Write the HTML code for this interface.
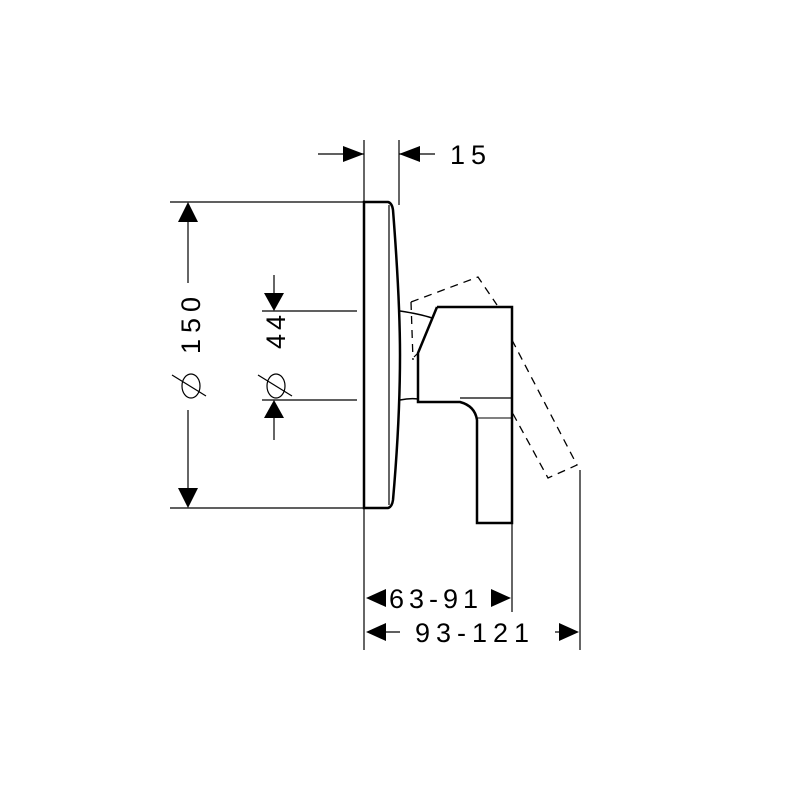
<!DOCTYPE html>
<html><head><style>body{margin:0;background:#fff}svg{display:block}</style></head><body>
<svg width="800" height="800" viewBox="0 0 800 800" xmlns="http://www.w3.org/2000/svg" font-family="Liberation Sans, sans-serif">
<g stroke="#000" fill="none" stroke-width="1.2">
<line x1="364" y1="140" x2="364" y2="650"/>
<line x1="399" y1="140" x2="399" y2="205"/>
<line x1="170" y1="202" x2="364" y2="202"/>
<line x1="170" y1="508" x2="364" y2="508"/>
<line x1="262" y1="311" x2="357" y2="311"/>
<line x1="262" y1="400" x2="357" y2="400"/>
<line x1="512" y1="505" x2="512" y2="612" stroke="#666" stroke-width="2"/>
<line x1="580" y1="470" x2="580" y2="650"/>
<line x1="318" y1="154" x2="364" y2="154"/>
<line x1="399" y1="154" x2="435" y2="154"/>
<line x1="188" y1="215" x2="188" y2="283"/>
<line x1="188" y1="410" x2="188" y2="495"/>
<line x1="274" y1="275" x2="274" y2="300"/>
<line x1="274" y1="410" x2="274" y2="440"/>
<line x1="375" y1="632" x2="400" y2="632"/>
<line x1="555" y1="632" x2="568" y2="632"/>
<path d="M364 202 L388 202 Q392 203 393 210 Q400 300 400 355 Q400 420 393 500 Q392 507 388 508 L364 508 Z" stroke-width="2.5"/>
<line x1="389" y1="205" x2="389" y2="505"/>
<path d="M400 311 Q420 314 432 318" stroke-width="1.5"/>
<path d="M400 400 Q410 398 418 399" stroke-width="1.5"/>
<path d="M437 307 L512 307 L512 523 L477 523 L477 420 Q475 406 460 402 L418 402 L418 353 L437 307" stroke-width="2.5"/>
<line x1="460" y1="398" x2="512" y2="398"/>
<line x1="477" y1="418" x2="512" y2="418" stroke-width="1"/>
<line x1="414" y1="357" x2="418" y2="353"/>
<g stroke-dasharray="8,6" stroke-width="1.3">
<path d="M411 302 L478 277 L497 305"/>
<path d="M512 340 L577 465 L548 478 L512 412"/>
<path d="M411 302 L413 360"/>
</g>
</g>
<g fill="#000">
<polygon points="343,146 364,154 343,162"/>
<polygon points="420,146 399,154 420,162"/>
<polygon points="178,222 188,202 198,222"/>
<polygon points="178,488 188,508 198,488"/>
<polygon points="264,293 274,311 284,293"/>
<polygon points="264,418 274,400 284,418"/>
<polygon points="386,589 366,598 386,607"/>
<polygon points="491,589 511,598 491,607"/>
<polygon points="386,623 366,632 386,641"/>
<polygon points="559,623 579,632 559,641"/>
</g>
<g font-size="27" fill="#000">
<text x="450" y="164" letter-spacing="6">15</text>
<text x="389" y="608" letter-spacing="5">63-91</text>
<text x="415" y="642" letter-spacing="6">93-121</text>
<text transform="translate(200,354) rotate(-90)" letter-spacing="6">150</text>
<text transform="translate(285,349) rotate(-90)" letter-spacing="4">44</text>
</g>
<g stroke="#000" fill="none" stroke-width="1.2">
<ellipse cx="191" cy="386" rx="9" ry="12"/>
<line x1="172" y1="375" x2="206" y2="396"/>
<ellipse cx="276" cy="386" rx="9" ry="12"/>
<line x1="258" y1="375" x2="292" y2="396"/>
</g>
</svg>
</body></html>
